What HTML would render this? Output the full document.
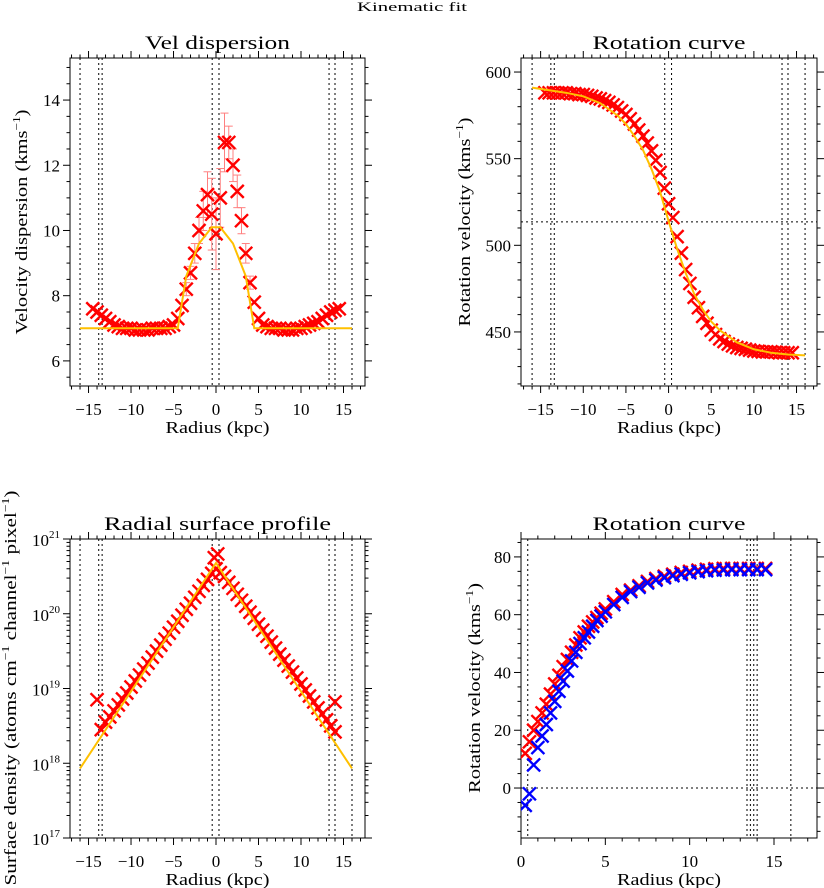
<!DOCTYPE html>
<html><head><meta charset="utf-8">
<style>
html,body{margin:0;padding:0;background:#fff;}
svg{display:block;font-family:"Liberation Serif",serif;}
</style></head>
<body>
<svg id="chart" width="824" height="888" viewBox="0 0 824 888" xmlns="http://www.w3.org/2000/svg">
<text x="412" y="11" text-anchor="middle" font-size="13" textLength="110" lengthAdjust="spacingAndGlyphs">Kinematic fit</text>
</svg>
<script>
// ---------- Panel 1: velocity dispersion ----------
const dispR = [-14.5,-14,-13.5,-13,-12.5,-12,-11.5,-11,-10.5,-10,-9.5,-9,-8.5,-8,-7.5,-7,-6.5,-6,-5.5,-5,-4.5,-4,-3.5,-3,-2.5,-2,-1.5,-1,-0.5,0,0.5,1,1.5,2,2.5,3,3.5,4,4.5,5,5.5,6,6.5,7,7.5,8,8.5,9,9.5,10,10.5,11,11.5,12,12.5,13,13.5,14,14.5];
const dispV = [7.6,7.5,7.4,7.3,7.2,7.1,7.05,7.0,7.0,7.0,6.95,6.95,6.95,6.95,7.0,7.0,7.0,7.0,7.05,7.1,7.3,7.7,8.2,8.7,9.3,10.0,10.6,11.1,10.5,9.9,11.0,12.7,12.7,12.0,11.2,10.3,9.3,8.4,7.8,7.3,7.1,7.05,7.0,7.0,7.0,6.95,6.95,6.95,7.0,7.0,7.05,7.1,7.15,7.2,7.3,7.4,7.5,7.55,7.6];
const dispErr = [0.1,0.1,0.1,0.1,0.1,0.1,0.1,0.1,0.1,0.1,0.1,0.1,0.1,0.1,0.1,0.1,0.1,0.1,0.1,0.1,0.1,0.1,0.2,0.2,0.3,0.4,0.6,0.7,1.1,1.1,0.9,0.9,0.5,0.5,0.5,0.4,0.3,0.2,0.1,0.1,0.1,0.1,0.1,0.1,0.1,0.1,0.1,0.1,0.1,0.1,0.1,0.1,0.1,0.1,0.1,0.1,0.1,0.1,0.1];
const dispFitR = [-16,-4.5,-3.5,-2,-0.5,0.5,2,3.5,4.5,16];
const dispFitV = [7,7,8.6,9.6,10.1,10.1,9.6,8.6,7,7];
const dispVlines = [-16,-13.8,-13.4,-0.45,0.35,13.3,14.0,16];
const dispXTicks = [-15,-10,-5,0,5,10,15];
const dispYTicks = [6,8,10,12,14];

// ---------- Panel 2: rotation curve (two-sided) ----------
const rotR = [-14.5,-14,-13.5,-13,-12.5,-12,-11.5,-11,-10.5,-10,-9.5,-9,-8.5,-8,-7.5,-7,-6.5,-6,-5.5,-5,-4.5,-4,-3.5,-3,-2.5,-2,-1.5,-1,-0.5,0,0.5,1,1.5,2,2.5,3,3.5,4,4.5,5,5.5,6,6.5,7,7.5,8,8.5,9,9.5,10,10.5,11,11.5,12,12.5,13,13.5,14,14.5];
const rotV = [588,588,588,588,588,588,587.5,587.5,587,587,586.5,586,585,584.5,583.5,582.5,581,579.5,577.5,575.5,573,570,566.5,563,559,554.5,549,542,533,524,516,505,495.5,486,478,470,464,459,455,451,448.5,446,444.5,443,442,441,440.5,440,439.5,439,438.8,438.5,438.5,438.5,438.3,438,438,438,438];
const rotFitR = [-16,-14,-12,-10,-8,-6,-5,-4,-3,-2,-1,0,1,2,3,4,5,6,8,10,12,14,16];
const rotFitV = [591,589.5,588,586,582,575,570,563,555,544,531,514,498,484,472,463,456,451,444,440,438,437,436.5];
const rotVlines = [-16,-13.8,-13.4,-0.45,0.35,13.3,14.0,16];
const rotHline = 513.5;
const rotXTicks = [-15,-10,-5,0,5,10,15];
const rotYTicks = [450,500,550,600];

// ---------- Panel 3: radial surface profile (log10 values) ----------
const surfR = [-14,-13.5,-13,-12.5,-12,-11.5,-11,-10.5,-10,-9.5,-9,-8.5,-8,-7.5,-7,-6.5,-6,-5.5,-5,-4.5,-4,-3.5,-3,-2.5,-2,-1.5,-1,-0.5,-0.2,0,0.2,0.5,1,1.5,2,2.5,3,3.5,4,4.5,5,5.5,6,6.5,7,7.5,8,8.5,9,9.5,10,10.5,11,11.5,12,12.5,13,13.5,14,14];
const surfLog = [18.85,18.45,18.55,18.62,18.7,18.78,18.86,18.94,19.02,19.1,19.18,19.26,19.34,19.42,19.5,19.58,19.66,19.74,19.82,19.9,19.98,20.06,20.14,20.22,20.3,20.38,20.46,20.54,20.75,20.6,20.8,20.55,20.5,20.42,20.34,20.26,20.18,20.1,20.02,19.94,19.86,19.78,19.7,19.62,19.54,19.46,19.38,19.3,19.22,19.14,19.06,18.98,18.9,18.82,18.74,18.66,18.58,18.5,18.42,18.82];
const surfFitR = [-16,0,16];
const surfFitLog = [17.93,20.68,17.93];
const surfVlines = [-16,-13.8,-13.4,-0.45,0.35,13.3,14.0,16];
const surfXTicks = [-15,-10,-5,0,5,10,15];
const surfYExp = [17,18,19,20,21];

// ---------- Panel 4: folded rotation curve ----------
const foldR = [0.25,0.5,0.75,1,1.25,1.5,1.75,2,2.25,2.5,2.75,3,3.25,3.5,3.75,4,4.25,4.5,4.75,5,5.5,6,6.5,7,7.5,8,8.5,9,9.5,10,10.5,11,11.5,12,12.5,13,13.5,14,14.5];
const foldRed = [12,16,20,23,26,29,32.5,36,39,42,44.5,47,49.5,52,54,56,57.5,59,60.5,62,64.5,67,68.5,70,71.5,72.5,73.3,74,74.6,75,75.4,75.7,75.9,76,76,76,76,76,76];
const foldBlue = [-6,-2,8,14,18,22,26,30,33.5,37,40.5,44,47,50,52,54,56,58,59.5,61,63.5,66,68,69.5,71,72,72.8,73.5,74,74.5,74.9,75.2,75.4,75.5,75.6,75.6,75.6,75.6,75.6];
const foldVlines = [0.4,13.4,13.6,13.8,14.0,16];
const foldHline = 0;
const foldXTicks = [0,5,10,15];
const foldYTicks = [0,20,40,60,80];

const NS = 'http://www.w3.org/2000/svg';
const svg = document.getElementById('chart');
function mk(tag, attrs, parent){
  const e = document.createElementNS(NS, tag);
  for (const k in attrs) e.setAttribute(k, attrs[k]);
  (parent||svg).appendChild(e);
  return e;
}
function line(g,x1,y1,x2,y2,stroke,w,dash){
  const l = mk('line',{x1:x1,y1:y1,x2:x2,y2:y2,stroke:stroke,'stroke-width':w},g);
  if(dash) l.setAttribute('stroke-dasharray',dash);
  return l;
}

function panel(cfg){
  const g = mk('g',{});
  
  
  const L=cfg.L,R=cfg.R,T=cfg.T,B=cfg.B;
  const sx = v => L + (v-cfg.xmin)/(cfg.xmax-cfg.xmin)*(R-L);
  const sy = v => B - (v-cfg.ymin)/(cfg.ymax-cfg.ymin)*(B-T);
  const fr = mk('rect',{x:L,y:T,width:R-L,height:B-T,fill:'none',stroke:'#000','stroke-width':1},g);
  
  
  const xa = mk('g',{},g);
  
  
  for(let v=Math.ceil(cfg.xmin/cfg.xminor)*cfg.xminor; v<=cfg.xmax+1e-9; v+=cfg.xminor){
    const major = Math.abs(v/cfg.xmajor - Math.round(v/cfg.xmajor))<1e-6;
    const len = major?7:3.5; const x=sx(v);
    line(xa,x,B,x,B+len,'#000',1);
    line(xa,x,T,x,T-len,'#000',1);
  }
  cfg.xticks.forEach(v=>{
    const t = mk('text',{x:sx(v),y:B+29,'text-anchor':'middle','font-size':17},xa);
    t.textContent = (v<0?'\u2212':'')+Math.abs(v);
    
    
  });
  const xl = mk('text',{x:(L+R)/2,y:B+47,'text-anchor':'middle','font-size':17,textLength:104,lengthAdjust:'spacingAndGlyphs'},g);
  xl.textContent='Radius (kpc)';
  
  
  const ya = mk('g',{},g);
  
  
  if(cfg.log){
    for(let e=cfg.ymin;e<cfg.ymax;e++){
      for(let m=1;m<10;m++){
        const y=sy(e+Math.log10(m)); const len=m===1?7:3.5;
        line(ya,L,y,L-len,y,'#000',1); line(ya,R,y,R+len,y,'#000',1);
      }
    }
    const yt=sy(cfg.ymax); line(ya,L,yt,L-7,yt,'#000',1); line(ya,R,yt,R+7,yt,'#000',1);
    cfg.yexp.forEach(e=>{
      const t = mk('text',{x:L-10,y:sy(e)+7,'text-anchor':'end','font-size':17},ya);
      
      
      t.appendChild(document.createTextNode('10'));
      const s = mk('tspan',{dy:-8,'font-size':11},t); s.textContent=String(e);
    });
  } else {
    for(let v=Math.ceil(cfg.ymin/cfg.yminor)*cfg.yminor; v<=cfg.ymax+1e-9; v+=cfg.yminor){
      const major = Math.abs(v/cfg.ymajor - Math.round(v/cfg.ymajor))<1e-6;
      const len = major?7:3.5; const y=sy(v);
      line(ya,L,y,L-len,y,'#000',1); line(ya,R,y,R+len,y,'#000',1);
    }
    cfg.yticks.forEach(v=>{
      const t = mk('text',{x:L-10,y:sy(v)+6,'text-anchor':'end','font-size':17},ya);
      t.textContent = v<0?'\u2212'+Math.abs(v):String(v);
      
      
    });
  }
  const yl = mk('text',{x:0,y:0,'text-anchor':'middle','font-size':17,textLength:cfg.yllen,lengthAdjust:'spacingAndGlyphs',transform:`translate(${cfg.ylx},${cfg.yly}) rotate(-90)`},g);
  
  
  cfg.ylabel.forEach(p=>{
    if(p[1]){ const s=mk('tspan',{dy:-7,'font-size':11},yl); s.textContent=p[0]; }
    else { const s=mk('tspan',{},yl); if(yl.childNodes.length>1){ s.setAttribute('dy',7);} s.textContent=p[0]; }
  });
  const tt = mk('text',{x:(L+R)/2,y:T-9,'text-anchor':'middle','font-size':19,textLength:cfg.tlen,lengthAdjust:'spacingAndGlyphs'},g);
  tt.textContent=cfg.title;
  
  
  const cid='clip'+cfg.name;
  const cp = mk('clipPath',{id:cid},g); mk('rect',{x:L,y:T,width:R-L,height:B-T},cp);
  const plot = mk('g',{'clip-path':`url(#${cid})`},g);
  return {g:plot,sx,sy};
}
function vlines(p,arr,cfg){
  arr.forEach(v=>{ const l=line(p.g,p.sx(v),cfg.T,p.sx(v),cfg.B,'#000',1,'2,3');
    
     });
}
function xmark(g,x,y,c,h){
  const m = mk('path',{d:`M${x-h},${y-h}L${x+h},${y+h}M${x-h},${y+h}L${x+h},${y-h}`,stroke:c,'stroke-width':2.4,fill:'none'},g);
  
  
  return m;
}
function fitLine(p,xs,ys){
  const pl = mk('polyline',{points:xs.map((x,i)=>p.sx(x)+','+p.sy(ys[i])).join(' '),fill:'none',stroke:'#ffc000','stroke-width':2},p.g);
  
  
}

// Panel 1
const c1={name:'vel-dispersion-panel',L:70,R:365,T:58,B:386,xmin:-17.18,xmax:17.53,ymin:5.23,ymax:15.29,xminor:1,xmajor:5,yminor:0.5,ymajor:2,xticks:dispXTicks,yticks:dispYTicks,title:'Vel dispersion',tlen:145,ylx:27,yly:222,yllen:225,ylabel:[['Velocity dispersion (kms'],['\u22121',1],[')']]};
const p1=panel(c1);
vlines(p1,dispVlines,c1);
dispR.forEach((r,i)=>{
  const e=dispErr[i]; if(e>0.15){
    const x=p1.sx(r);
    line(p1.g,x,p1.sy(dispV[i]-e),x,p1.sy(dispV[i]+e),'#ff8080',1);
    line(p1.g,x-4,p1.sy(dispV[i]-e),x+4,p1.sy(dispV[i]-e),'#ff8080',1);
    line(p1.g,x-4,p1.sy(dispV[i]+e),x+4,p1.sy(dispV[i]+e),'#ff8080',1);
  }
});
dispR.forEach((r,i)=>xmark(p1.g,p1.sx(r),p1.sy(dispV[i]),'#ff0000',6.5));
fitLine(p1,dispFitR,dispFitV);

// Panel 2
const c2={name:'rotation-curve-panel',L:521,R:817,T:58,B:386,xmin:-17.3,xmax:17.4,ymin:418.8,ymax:608.1,xminor:1,xmajor:5,yminor:10,ymajor:50,xticks:rotXTicks,yticks:rotYTicks,title:'Rotation curve',tlen:153,ylx:470,yly:222,yllen:209,ylabel:[['Rotation velocity (kms'],['\u22121',1],[')']]};
const p2=panel(c2);
vlines(p2,rotVlines,c2);
const h2=line(p2.g,c2.L,p2.sy(rotHline),c2.R,p2.sy(rotHline),'#000',1,'2,3');


rotR.forEach((r,i)=>xmark(p2.g,p2.sx(r),p2.sy(rotV[i]),'#ff0000',6.5));
fitLine(p2,rotFitR,rotFitV);

// Panel 3
const c3={name:'surface-profile-panel',L:70,R:365,T:539,B:838,xmin:-17.18,xmax:17.53,ymin:17,ymax:21,xminor:1,xmajor:5,log:true,xticks:surfXTicks,yexp:surfYExp,title:'Radial surface profile',tlen:227,ylx:16,yly:688,yllen:395,ylabel:[['Surface density (atoms cm'],['\u22121',1],[' channel'],['\u22121',1],[' pixel'],['\u22121',1],[')']]};
const p3=panel(c3);
vlines(p3,surfVlines,c3);
surfR.forEach((r,i)=>xmark(p3.g,p3.sx(r),p3.sy(surfLog[i]),'#ff0000',6.5));
fitLine(p3,surfFitR,surfFitLog);

// Panel 4
const c4={name:'folded-rotation-curve-panel',L:521,R:817,T:539,B:838,xmin:0,xmax:17.55,ymin:-17.3,ymax:86.2,xminor:1,xmajor:5,yminor:5,ymajor:20,xticks:foldXTicks,yticks:foldYTicks,title:'Rotation curve',tlen:153,ylx:480,yly:688,yllen:210,ylabel:[['Rotation velocity (kms'],['\u22121',1],[')']]};
const p4=panel(c4);
vlines(p4,foldVlines,c4);
const h4=line(p4.g,c4.L,p4.sy(foldHline),c4.R,p4.sy(foldHline),'#000',1,'2,3');


foldR.forEach((r,i)=>xmark(p4.g,p4.sx(r),p4.sy(foldRed[i]),'#ff0000',6.5));
foldR.forEach((r,i)=>xmark(p4.g,p4.sx(r),p4.sy(foldBlue[i]),'#0000ff',6.5));
</script>
</body></html>
